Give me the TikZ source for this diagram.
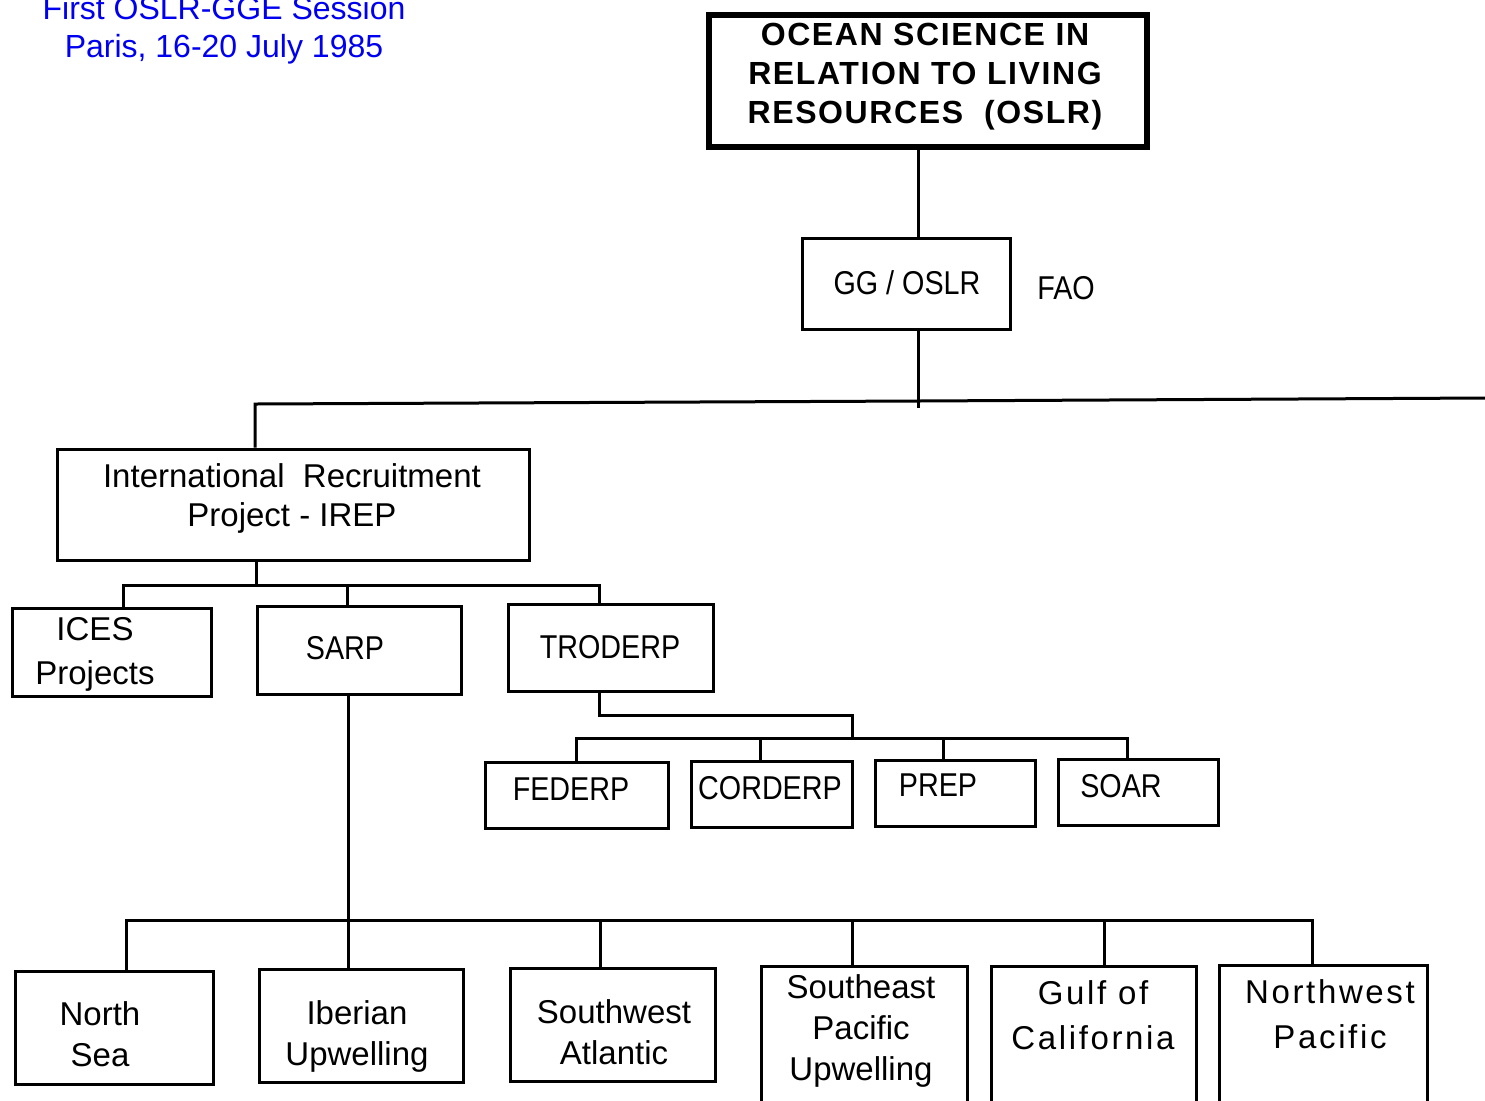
\documentclass[tikz,border=0pt]{standalone}
\usepackage{fontspec}
\setmainfont{Liberation Sans}
\newfontfamily\narrowfont[FakeStretch=0.87]{Liberation Sans}
\newfontfamily\widefont[LetterSpace=8]{Liberation Sans}
\newfontfamily\capsfont[LetterSpace=5]{Liberation Sans}
\usetikzlibrary{fit}
\definecolor{titleblue}{RGB}{0,0,240}
\begin{document}
\begin{tikzpicture}[x=0.5pt,y=-0.5pt,
  box/.style={draw, line width=1.5pt, inner sep=0pt},
  headbox/.style={draw, line width=3pt, inner sep=0pt},
  wire/.style={line width=1.5pt},
  txt/.style={inner sep=0pt, align=center, anchor=base, font=\fontsize{16.5}{20.5}\selectfont},
  ntxt/.style={txt, font=\narrowfont\fontsize{16.5}{20}\selectfont},
  wtxt/.style={txt, font=\widefont\fontsize{16.5}{22.5}\selectfont},
  heading/.style={inner sep=0pt, align=center, anchor=base, text=titleblue, font=\fontsize{16}{19}\selectfont}]
\clip (0,0) rectangle (1485,1100);

% session heading (anchored at the baseline of its last line)
\node[heading] (session) at (224,57) {First OSLR-GGE Session\\Paris, 16-20 July 1985};

% boxes
\node[headbox, fit={(709,15) (1147,147)}] (oslr) {};
\node[box, fit={(802,238) (1010,329)}] (gg) {};
\node[box, fit={(57,449) (529,560)}] (irep) {};
\node[box, fit={(12,608) (211,696)}] (ices) {};
\node[box, fit={(257,606) (461,694)}] (sarp) {};
\node[box, fit={(508,604) (713,691)}] (troderp) {};
\node[box, fit={(485,762) (668,828)}] (federp) {};
\node[box, fit={(691,761) (852,827)}] (corderp) {};
\node[box, fit={(875,760) (1035,826)}] (prep) {};
\node[box, fit={(1058,759) (1218,825)}] (soar) {};
\node[box, fit={(15,971) (213,1084)}] (northsea) {};
\node[box, fit={(259,969) (463,1082)}] (iberian) {};
\node[box, fit={(510,968) (715,1081)}] (swatl) {};
\node[box, fit={(761,966) (967,1130)}] (sepac) {};
\node[box, fit={(991,966) (1196,1130)}] (gulf) {};
\node[box, fit={(1219,965) (1427,1130)}] (nwpac) {};

% box texts (multi-line texts sit on the baseline of their last line)
\node[inner sep=0pt, align=center, anchor=base,
      font=\capsfont\bfseries\fontsize{16}{19.5}\selectfont] (oslrtext) at (925,123)
  {OCEAN SCIENCE IN\\RELATION TO LIVING\\RESOURCES\ \ (OSLR)};
\node[ntxt] (ggtext) at (907,294) {GG / OSLR};
\node[ntxt] (fao) at (1066,299) {FAO};
\node[txt, font=\fontsize{16.5}{19.5}\selectfont] (ireptext) at (292,526)
  {International\ \ Recruitment\\Project - IREP};
\node[txt, font=\fontsize{16.5}{22}\selectfont] (icestext) at (95,684) {ICES\\Projects};
\node[ntxt] (sarptext) at (345,659) {SARP};
\node[ntxt] (troderptext) at (610,658) {TRODERP};
\node[ntxt] (federptext) at (571,800) {FEDERP};
\node[ntxt] (corderptext) at (770,799) {CORDERP};
\node[ntxt] (preptext) at (938,796) {PREP};
\node[ntxt] (soartext) at (1121,797) {SOAR};
\node[txt] (northseatext) at (100,1066) {North\\Sea};
\node[txt] (iberiantext) at (357,1065) {Iberian\\Upwelling};
\node[txt] (swatltext) at (614,1064) {Southwest\\Atlantic};
\node[txt] (sepactext) at (861,1080) {Southeast\\Pacific\\Upwelling};
\node[wtxt] (gulftext) at (1093,1049) {Gulf of\\California};
\node[wtxt] (nwpactext) at (1330,1048) {Northwest\\Pacific};

% junction points
\coordinate (j0) at (918,401);
\coordinate (j0end) at (918,408);
\coordinate (j1) at (255,404);
\coordinate (e1) at (1485,398);
\coordinate (c0) at (256,585);
\coordinate (c1) at (123,585);
\coordinate (c2) at (347,585);
\coordinate (c3) at (599,585);
\coordinate (t1) at (599,715);
\coordinate (t2) at (852,715);
\coordinate (f0) at (852,738);
\coordinate (f1) at (576,738);
\coordinate (f2) at (760,738);
\coordinate (f3) at (943,738);
\coordinate (f4) at (1127,738);
\coordinate (b1) at (126,920);
\coordinate (b2) at (348,920);
\coordinate (b3) at (600,920);
\coordinate (b4) at (852,920);
\coordinate (b5) at (1104,920);
\coordinate (b6) at (1312,920);

% connectors
\draw[wire] (oslr.south -| j0) -- (gg.north -| j0);
\draw[wire] (gg.south -| j0) -- (j0end);
\draw[wire] (irep.north -| j1) -- (j1) -- (j0) -- (e1);

\draw[wire] (irep.south -| c0) -- (c0);
\draw[wire] (ices.north -| c1) -- (c1) -- (c3) -- (troderp.north -| c3);
\draw[wire] (sarp.north -| c2) -- (c2);

\draw[wire] (troderp.south -| t1) -- (t1) -- (t2) -- (f0);
\draw[wire] (federp.north -| f1) -- (f1) -- (f4) -- (soar.north -| f4);
\draw[wire] (corderp.north -| f2) -- (f2);
\draw[wire] (prep.north -| f3) -- (f3);

\draw[wire] (sarp.south -| b2) -- (iberian.north -| b2);
\draw[wire] (northsea.north -| b1) -- (b1) -- (b6) -- (nwpac.north -| b6);
\draw[wire] (swatl.north -| b3) -- (b3);
\draw[wire] (sepac.north -| b4) -- (b4);
\draw[wire] (gulf.north -| b5) -- (b5);
\end{tikzpicture}
\end{document}
